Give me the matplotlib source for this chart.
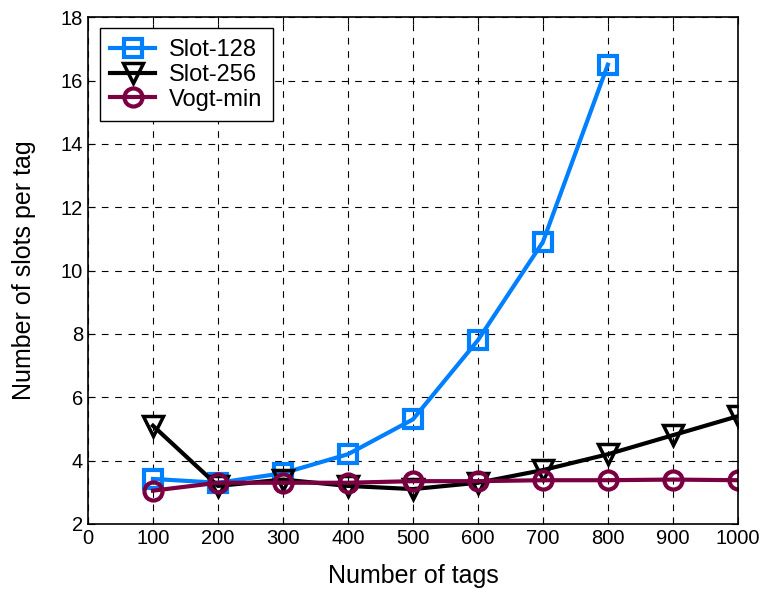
import matplotlib
matplotlib.use("Agg")
import matplotlib.pyplot as plt

tags = [100, 200, 300, 400, 500, 600, 700, 800, 900, 1000]
slot128 = [3.42, 3.3, 3.6, 4.2, 5.3, 7.8, 10.9, 16.5]
slot256 = [5.1, 3.2, 3.4, 3.2, 3.1, 3.3, 3.7, 4.2, 4.8, 5.4]
vogt_min = [3.05, 3.3, 3.3, 3.3, 3.35, 3.35, 3.38, 3.38, 3.4, 3.38]

plt.rcParams['font.family'] = ['Liberation Sans', 'DejaVu Sans']

fig = plt.figure(figsize=(7.6, 5.92), dpi=100)
ax = fig.add_axes([0.1158, 0.115, 0.855, 0.856])

ax.plot(tags[:len(slot128)], slot128, color='#0080ff', lw=3, marker='s', ms=13,
        mfc='none', mew=3, label='Slot-128')
ax.plot(tags, slot256, color='black', lw=3, marker='v', ms=14,
        mfc='none', mew=2.5, label='Slot-256')
ax.plot(tags, vogt_min, color='#7a0041', lw=3, marker='o', ms=13,
        mfc='none', mew=3, label='Vogt-min')

ax.set_xlim(0, 1000)
ax.set_ylim(2, 18)
ax.set_xticks(range(0, 1001, 100))
ax.set_yticks(range(2, 19, 2))
ax.tick_params(direction='in', labelsize=14.5, length=5, top=True, right=True)
ax.grid(True, color='black', ls=(0, (6, 6)), lw=0.8)
for s in ax.spines.values():
    s.set_linewidth(1.2)

ax.set_xlabel('Number of tags', fontsize=18, labelpad=12)
ax.set_ylabel('Number of slots per tag', fontsize=18, labelpad=18)

leg = ax.legend(loc='upper left', fontsize=17, fancybox=False, framealpha=1,
                edgecolor='black', handlelength=1.9, handletextpad=0.6,
                borderpad=0.45, labelspacing=0.12, borderaxespad=0,
                bbox_to_anchor=(0.018, 0.978))
leg.get_frame().set_linewidth(1)

fig.savefig('out.png', dpi=100)
